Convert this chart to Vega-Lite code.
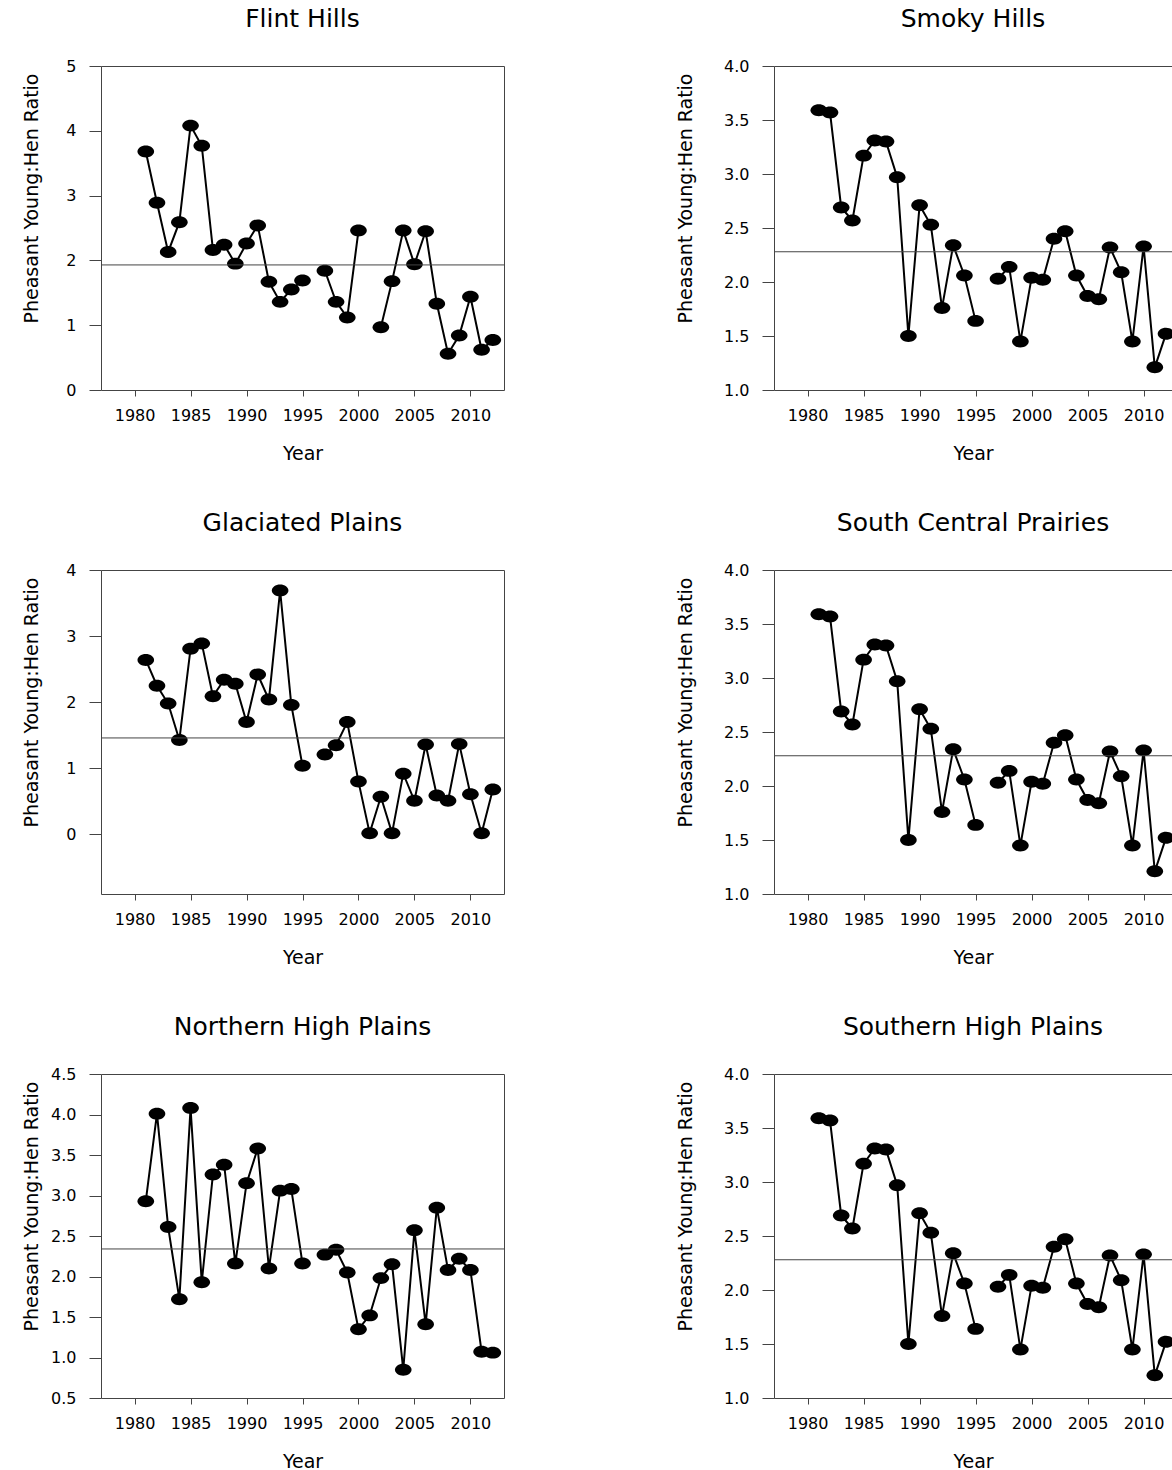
{
  "$schema": "https://vega.github.io/schema/vega-lite/v6.json",
  "background": "white",
  "padding": {"left": 21, "top": 6, "right": 0, "bottom": 0},
  "datasets": {
    "flint": [
      {"Year":1981,"Ratio":3.68},{"Year":1982,"Ratio":2.89},{"Year":1983,"Ratio":2.13},{"Year":1984,"Ratio":2.59},{"Year":1985,"Ratio":4.08},{"Year":1986,"Ratio":3.77},{"Year":1987,"Ratio":2.16},{"Year":1988,"Ratio":2.24},{"Year":1989,"Ratio":1.95},{"Year":1990,"Ratio":2.26},{"Year":1991,"Ratio":2.54},{"Year":1992,"Ratio":1.67},{"Year":1993,"Ratio":1.36},{"Year":1994,"Ratio":1.55},{"Year":1995,"Ratio":1.69},{"Year":1996,"Ratio":null},{"Year":1997,"Ratio":1.84},{"Year":1998,"Ratio":1.36},{"Year":1999,"Ratio":1.12},{"Year":2000,"Ratio":2.46},{"Year":2001,"Ratio":null},{"Year":2002,"Ratio":0.97},{"Year":2003,"Ratio":1.68},{"Year":2004,"Ratio":2.46},{"Year":2005,"Ratio":1.94},{"Year":2006,"Ratio":2.45},{"Year":2007,"Ratio":1.33},{"Year":2008,"Ratio":0.56},{"Year":2009,"Ratio":0.84},{"Year":2010,"Ratio":1.44},{"Year":2011,"Ratio":0.62},{"Year":2012,"Ratio":0.77}
    ],
    "smoky": [
      {"Year":1981,"Ratio":3.59},{"Year":1982,"Ratio":3.57},{"Year":1983,"Ratio":2.69},{"Year":1984,"Ratio":2.57},{"Year":1985,"Ratio":3.17},{"Year":1986,"Ratio":3.31},{"Year":1987,"Ratio":3.30},{"Year":1988,"Ratio":2.97},{"Year":1989,"Ratio":1.50},{"Year":1990,"Ratio":2.71},{"Year":1991,"Ratio":2.53},{"Year":1992,"Ratio":1.76},{"Year":1993,"Ratio":2.34},{"Year":1994,"Ratio":2.06},{"Year":1995,"Ratio":1.64},{"Year":1996,"Ratio":null},{"Year":1997,"Ratio":2.03},{"Year":1998,"Ratio":2.14},{"Year":1999,"Ratio":1.45},{"Year":2000,"Ratio":2.04},{"Year":2001,"Ratio":2.02},{"Year":2002,"Ratio":2.40},{"Year":2003,"Ratio":2.47},{"Year":2004,"Ratio":2.06},{"Year":2005,"Ratio":1.87},{"Year":2006,"Ratio":1.84},{"Year":2007,"Ratio":2.32},{"Year":2008,"Ratio":2.09},{"Year":2009,"Ratio":1.45},{"Year":2010,"Ratio":2.33},{"Year":2011,"Ratio":1.21},{"Year":2012,"Ratio":1.52}
    ],
    "glaciated": [
      {"Year":1981,"Ratio":2.64},{"Year":1982,"Ratio":2.25},{"Year":1983,"Ratio":1.98},{"Year":1984,"Ratio":1.43},{"Year":1985,"Ratio":2.81},{"Year":1986,"Ratio":2.89},{"Year":1987,"Ratio":2.09},{"Year":1988,"Ratio":2.34},{"Year":1989,"Ratio":2.28},{"Year":1990,"Ratio":1.70},{"Year":1991,"Ratio":2.42},{"Year":1992,"Ratio":2.04},{"Year":1993,"Ratio":3.69},{"Year":1994,"Ratio":1.96},{"Year":1995,"Ratio":1.04},{"Year":1996,"Ratio":null},{"Year":1997,"Ratio":1.21},{"Year":1998,"Ratio":1.35},{"Year":1999,"Ratio":1.70},{"Year":2000,"Ratio":0.80},{"Year":2001,"Ratio":0.02},{"Year":2002,"Ratio":0.57},{"Year":2003,"Ratio":0.02},{"Year":2004,"Ratio":0.92},{"Year":2005,"Ratio":0.51},{"Year":2006,"Ratio":1.36},{"Year":2007,"Ratio":0.59},{"Year":2008,"Ratio":0.51},{"Year":2009,"Ratio":1.37},{"Year":2010,"Ratio":0.61},{"Year":2011,"Ratio":0.02},{"Year":2012,"Ratio":0.68}
    ],
    "scp": [
      {"Year":1981,"Ratio":3.59},{"Year":1982,"Ratio":3.57},{"Year":1983,"Ratio":2.69},{"Year":1984,"Ratio":2.57},{"Year":1985,"Ratio":3.17},{"Year":1986,"Ratio":3.31},{"Year":1987,"Ratio":3.30},{"Year":1988,"Ratio":2.97},{"Year":1989,"Ratio":1.50},{"Year":1990,"Ratio":2.71},{"Year":1991,"Ratio":2.53},{"Year":1992,"Ratio":1.76},{"Year":1993,"Ratio":2.34},{"Year":1994,"Ratio":2.06},{"Year":1995,"Ratio":1.64},{"Year":1996,"Ratio":null},{"Year":1997,"Ratio":2.03},{"Year":1998,"Ratio":2.14},{"Year":1999,"Ratio":1.45},{"Year":2000,"Ratio":2.04},{"Year":2001,"Ratio":2.02},{"Year":2002,"Ratio":2.40},{"Year":2003,"Ratio":2.47},{"Year":2004,"Ratio":2.06},{"Year":2005,"Ratio":1.87},{"Year":2006,"Ratio":1.84},{"Year":2007,"Ratio":2.32},{"Year":2008,"Ratio":2.09},{"Year":2009,"Ratio":1.45},{"Year":2010,"Ratio":2.33},{"Year":2011,"Ratio":1.21},{"Year":2012,"Ratio":1.52}
    ],
    "nhp": [
      {"Year":1981,"Ratio":2.93},{"Year":1982,"Ratio":4.01},{"Year":1983,"Ratio":2.61},{"Year":1984,"Ratio":1.72},{"Year":1985,"Ratio":4.08},{"Year":1986,"Ratio":1.93},{"Year":1987,"Ratio":3.26},{"Year":1988,"Ratio":3.38},{"Year":1989,"Ratio":2.16},{"Year":1990,"Ratio":3.15},{"Year":1991,"Ratio":3.58},{"Year":1992,"Ratio":2.10},{"Year":1993,"Ratio":3.06},{"Year":1994,"Ratio":3.08},{"Year":1995,"Ratio":2.16},{"Year":1996,"Ratio":null},{"Year":1997,"Ratio":2.27},{"Year":1998,"Ratio":2.33},{"Year":1999,"Ratio":2.05},{"Year":2000,"Ratio":1.35},{"Year":2001,"Ratio":1.52},{"Year":2002,"Ratio":1.98},{"Year":2003,"Ratio":2.15},{"Year":2004,"Ratio":0.85},{"Year":2005,"Ratio":2.57},{"Year":2006,"Ratio":1.41},{"Year":2007,"Ratio":2.85},{"Year":2008,"Ratio":2.08},{"Year":2009,"Ratio":2.22},{"Year":2010,"Ratio":2.08},{"Year":2011,"Ratio":1.07},{"Year":2012,"Ratio":1.06}
    ],
    "shp": [
      {"Year":1981,"Ratio":3.59},{"Year":1982,"Ratio":3.57},{"Year":1983,"Ratio":2.69},{"Year":1984,"Ratio":2.57},{"Year":1985,"Ratio":3.17},{"Year":1986,"Ratio":3.31},{"Year":1987,"Ratio":3.30},{"Year":1988,"Ratio":2.97},{"Year":1989,"Ratio":1.50},{"Year":1990,"Ratio":2.71},{"Year":1991,"Ratio":2.53},{"Year":1992,"Ratio":1.76},{"Year":1993,"Ratio":2.34},{"Year":1994,"Ratio":2.06},{"Year":1995,"Ratio":1.64},{"Year":1996,"Ratio":null},{"Year":1997,"Ratio":2.03},{"Year":1998,"Ratio":2.14},{"Year":1999,"Ratio":1.45},{"Year":2000,"Ratio":2.04},{"Year":2001,"Ratio":2.02},{"Year":2002,"Ratio":2.40},{"Year":2003,"Ratio":2.47},{"Year":2004,"Ratio":2.06},{"Year":2005,"Ratio":1.87},{"Year":2006,"Ratio":1.84},{"Year":2007,"Ratio":2.32},{"Year":2008,"Ratio":2.09},{"Year":2009,"Ratio":1.45},{"Year":2010,"Ratio":2.33},{"Year":2011,"Ratio":1.21},{"Year":2012,"Ratio":1.52}
    ],
    "means": [
      {"Region":"Flint Hills","Mean":1.93},
      {"Region":"Smoky Hills","Mean":2.28},
      {"Region":"Glaciated Plains","Mean":1.46},
      {"Region":"South Central Prairies","Mean":2.28},
      {"Region":"Northern High Plains","Mean":2.34},
      {"Region":"Southern High Plains","Mean":2.28}
    ]
  },
  "config": {
    "font": "DejaVu Sans",
    "view": {"stroke": "#444", "strokeWidth": 1},
    "axis": {"grid": false, "domain": false, "domainColor": "#444", "labelFont": "DejaVu Sans", "labelFontSize": 16, "labelColor": "#000", "titleFont": "DejaVu Sans", "titleFontSize": 19, "titleFontWeight": "normal", "titleColor": "#000", "tickColor": "#444", "labelFlush": false, "labelOverlap": false},
    "axisX": {"tickSize": 6, "labelPadding": 11, "titlePadding": 21},
    "axisY": {"tickSize": 12, "labelPadding": 13},
    "title": {"font": "DejaVu Sans", "fontSize": 25, "fontWeight": "normal", "color": "#000", "offset": 26}
  },
  "columns": 2,
  "spacing": {"row": 180, "column": 270},
  "bounds": "flush",
  "concat": [
    {
      "title": "Flint Hills",
      "width": 403, "height": 324,
      "layer": [
        {"data": {"name": "flint"}, "mark": {"type": "line", "color": "#000", "strokeWidth": 2},
         "encoding": {
           "x": {"field": "Year", "type": "quantitative", "scale": {"domain": [1977, 2013], "nice": false, "zero": false}, "axis": {"values": [1980,1985,1990,1995,2000,2005,2010], "format": "d", "title": "Year"}},
           "y": {"field": "Ratio", "type": "quantitative", "scale": {"domain": [0, 5], "nice": false, "zero": false}, "axis": {"values": [0,1,2,3,4,5], "format": "d", "title": "Pheasant Young:Hen Ratio", "titleX": -64, "titleY": 132, "titleBaseline": "alphabetic"}}
         }},
        {"data": {"name": "flint"}, "mark": {"type": "point", "shape": "M-1,0A1,0.72,0,1,1,1,0A1,0.72,0,1,1,-1,0Z", "filled": true, "color": "#000", "opacity": 1, "size": 276, "strokeWidth": 0},
         "encoding": {"x": {"field": "Year", "type": "quantitative"}, "y": {"field": "Ratio", "type": "quantitative"}}},
        {"data": {"name": "means"}, "transform": [{"filter": "datum.Region === 'Flint Hills'"}], "mark": {"type": "rule", "color": "#444", "strokeWidth": 1},
         "encoding": {"y": {"field": "Mean", "type": "quantitative"}}}
      ]
    },
    {
      "title": "Smoky Hills",
      "width": 398, "height": 324,
      "view": {"stroke": null},
      "resolve": {"axis": {"x": "independent"}},
      "layer": [
        {"data": {"name": "smoky"}, "mark": {"type": "line", "color": "#000", "strokeWidth": 2},
         "encoding": {
           "x": {"field": "Year", "type": "quantitative", "scale": {"domain": [1977, 2012.536], "nice": false, "zero": false}, "axis": {"values": [1980,1985,1990,1995,2000,2005,2010], "format": "d", "title": "Year", "domain": true}},
           "y": {"field": "Ratio", "type": "quantitative", "scale": {"domain": [1, 4], "nice": false, "zero": false}, "axis": {"values": [1,1.5,2,2.5,3,3.5,4], "format": ".1f", "title": "Pheasant Young:Hen Ratio", "titleX": -83, "titleY": 132, "titleBaseline": "alphabetic", "domain": true}}
         }},
        {"data": {"name": "smoky"}, "mark": {"type": "point", "shape": "M-1,0A1,0.72,0,1,1,1,0A1,0.72,0,1,1,-1,0Z", "filled": true, "color": "#000", "opacity": 1, "size": 276, "strokeWidth": 0},
         "encoding": {"x": {"field": "Year", "type": "quantitative", "axis": {"orient": "top", "labels": false, "ticks": false, "title": null, "domain": true}}, "y": {"field": "Ratio", "type": "quantitative"}}},
        {"data": {"name": "means"}, "transform": [{"filter": "datum.Region === 'Smoky Hills'"}], "mark": {"type": "rule", "color": "#444", "strokeWidth": 1},
         "encoding": {"y": {"field": "Mean", "type": "quantitative"}}}
      ]
    },
    {
      "title": "Glaciated Plains",
      "width": 403, "height": 324,
      "layer": [
        {"data": {"name": "glaciated"}, "mark": {"type": "line", "color": "#000", "strokeWidth": 2},
         "encoding": {
           "x": {"field": "Year", "type": "quantitative", "scale": {"domain": [1977, 2013], "nice": false, "zero": false}, "axis": {"values": [1980,1985,1990,1995,2000,2005,2010], "format": "d", "title": "Year"}},
           "y": {"field": "Ratio", "type": "quantitative", "scale": {"domain": [-0.9, 4], "nice": false, "zero": false}, "axis": {"values": [0,1,2,3,4], "format": "d", "title": "Pheasant Young:Hen Ratio", "titleX": -64, "titleY": 132, "titleBaseline": "alphabetic"}}
         }},
        {"data": {"name": "glaciated"}, "mark": {"type": "point", "shape": "M-1,0A1,0.72,0,1,1,1,0A1,0.72,0,1,1,-1,0Z", "filled": true, "color": "#000", "opacity": 1, "size": 276, "strokeWidth": 0},
         "encoding": {"x": {"field": "Year", "type": "quantitative"}, "y": {"field": "Ratio", "type": "quantitative"}}},
        {"data": {"name": "means"}, "transform": [{"filter": "datum.Region === 'Glaciated Plains'"}], "mark": {"type": "rule", "color": "#444", "strokeWidth": 1},
         "encoding": {"y": {"field": "Mean", "type": "quantitative"}}}
      ]
    },
    {
      "title": "South Central Prairies",
      "width": 398, "height": 324,
      "view": {"stroke": null},
      "resolve": {"axis": {"x": "independent"}},
      "layer": [
        {"data": {"name": "scp"}, "mark": {"type": "line", "color": "#000", "strokeWidth": 2},
         "encoding": {
           "x": {"field": "Year", "type": "quantitative", "scale": {"domain": [1977, 2012.536], "nice": false, "zero": false}, "axis": {"values": [1980,1985,1990,1995,2000,2005,2010], "format": "d", "title": "Year", "domain": true}},
           "y": {"field": "Ratio", "type": "quantitative", "scale": {"domain": [1, 4], "nice": false, "zero": false}, "axis": {"values": [1,1.5,2,2.5,3,3.5,4], "format": ".1f", "title": "Pheasant Young:Hen Ratio", "titleX": -83, "titleY": 132, "titleBaseline": "alphabetic", "domain": true}}
         }},
        {"data": {"name": "scp"}, "mark": {"type": "point", "shape": "M-1,0A1,0.72,0,1,1,1,0A1,0.72,0,1,1,-1,0Z", "filled": true, "color": "#000", "opacity": 1, "size": 276, "strokeWidth": 0},
         "encoding": {"x": {"field": "Year", "type": "quantitative", "axis": {"orient": "top", "labels": false, "ticks": false, "title": null, "domain": true}}, "y": {"field": "Ratio", "type": "quantitative"}}},
        {"data": {"name": "means"}, "transform": [{"filter": "datum.Region === 'South Central Prairies'"}], "mark": {"type": "rule", "color": "#444", "strokeWidth": 1},
         "encoding": {"y": {"field": "Mean", "type": "quantitative"}}}
      ]
    },
    {
      "title": "Northern High Plains",
      "width": 403, "height": 324,
      "layer": [
        {"data": {"name": "nhp"}, "mark": {"type": "line", "color": "#000", "strokeWidth": 2},
         "encoding": {
           "x": {"field": "Year", "type": "quantitative", "scale": {"domain": [1977, 2013], "nice": false, "zero": false}, "axis": {"values": [1980,1985,1990,1995,2000,2005,2010], "format": "d", "title": "Year"}},
           "y": {"field": "Ratio", "type": "quantitative", "scale": {"domain": [0.5, 4.5], "nice": false, "zero": false}, "axis": {"values": [0.5,1,1.5,2,2.5,3,3.5,4,4.5], "format": ".1f", "title": "Pheasant Young:Hen Ratio", "titleX": -64, "titleY": 132, "titleBaseline": "alphabetic"}}
         }},
        {"data": {"name": "nhp"}, "mark": {"type": "point", "shape": "M-1,0A1,0.72,0,1,1,1,0A1,0.72,0,1,1,-1,0Z", "filled": true, "color": "#000", "opacity": 1, "size": 276, "strokeWidth": 0},
         "encoding": {"x": {"field": "Year", "type": "quantitative"}, "y": {"field": "Ratio", "type": "quantitative"}}},
        {"data": {"name": "means"}, "transform": [{"filter": "datum.Region === 'Northern High Plains'"}], "mark": {"type": "rule", "color": "#444", "strokeWidth": 1},
         "encoding": {"y": {"field": "Mean", "type": "quantitative"}}}
      ]
    },
    {
      "title": "Southern High Plains",
      "width": 398, "height": 324,
      "view": {"stroke": null},
      "resolve": {"axis": {"x": "independent"}},
      "layer": [
        {"data": {"name": "shp"}, "mark": {"type": "line", "color": "#000", "strokeWidth": 2},
         "encoding": {
           "x": {"field": "Year", "type": "quantitative", "scale": {"domain": [1977, 2012.536], "nice": false, "zero": false}, "axis": {"values": [1980,1985,1990,1995,2000,2005,2010], "format": "d", "title": "Year", "domain": true}},
           "y": {"field": "Ratio", "type": "quantitative", "scale": {"domain": [1, 4], "nice": false, "zero": false}, "axis": {"values": [1,1.5,2,2.5,3,3.5,4], "format": ".1f", "title": "Pheasant Young:Hen Ratio", "titleX": -83, "titleY": 132, "titleBaseline": "alphabetic", "domain": true}}
         }},
        {"data": {"name": "shp"}, "mark": {"type": "point", "shape": "M-1,0A1,0.72,0,1,1,1,0A1,0.72,0,1,1,-1,0Z", "filled": true, "color": "#000", "opacity": 1, "size": 276, "strokeWidth": 0},
         "encoding": {"x": {"field": "Year", "type": "quantitative", "axis": {"orient": "top", "labels": false, "ticks": false, "title": null, "domain": true}}, "y": {"field": "Ratio", "type": "quantitative"}}},
        {"data": {"name": "means"}, "transform": [{"filter": "datum.Region === 'Southern High Plains'"}], "mark": {"type": "rule", "color": "#444", "strokeWidth": 1},
         "encoding": {"y": {"field": "Mean", "type": "quantitative"}}}
      ]
    }
  ]
}
